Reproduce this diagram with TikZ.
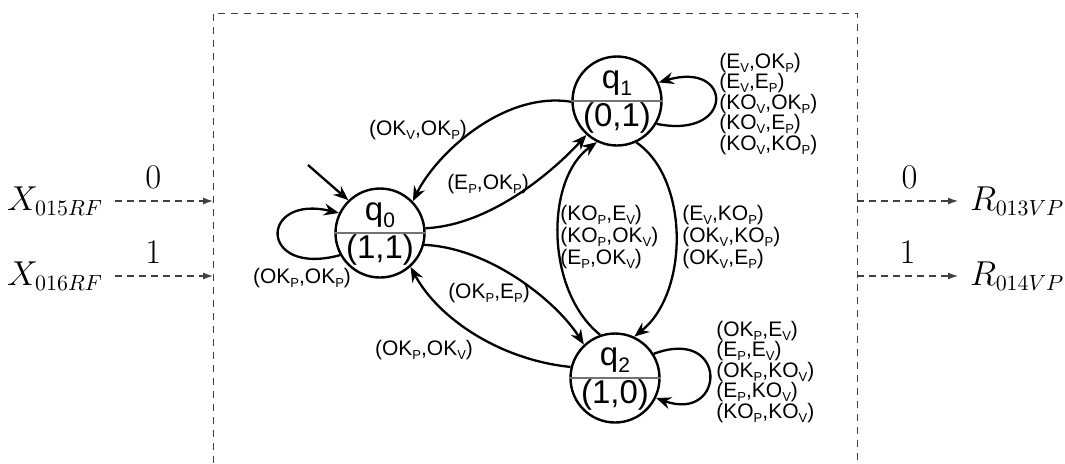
\documentclass[tikz,border=0pt]{standalone}
\usepackage{fontspec}
\setmainfont{Liberation Sans}
\usetikzlibrary{arrows.meta}
\newcommand\sbs[1]{\raisebox{-2pt}{\fontsize{6.5}{7}\selectfont #1}}
\newcommand\ssb[1]{\raisebox{-3.5pt}{\fontsize{10.5}{11}\selectfont #1}}
\begin{document}
\begin{tikzpicture}[x=0.5pt,y=-0.5pt,
  st/.style={circle,draw,line width=1.2pt,minimum size=44.5pt,inner sep=0pt},
  sttxt/.style={font=\fontsize{16.5}{18}\selectfont,inner sep=0pt},
  edge/.style={line width=1.15pt,-{Stealth[length=7.5pt,width=6pt,inset=2.5pt]}},
  lbl/.style={font=\fontsize{10.5}{10.25}\selectfont,inner sep=0pt,align=left},
  mlb/.style={font=\fontsize{10.5}{9.5}\selectfont,inner sep=0pt,align=left},
  io/.style={dash pattern=on 3.5pt off 2.5pt,draw=black!75,line width=0.6pt,-{Latex[length=5pt,width=3.5pt]}},
  boxln/.style={draw=black!75,line width=0.5pt,dash pattern=on 3.5pt off 3pt},
  mlbl/.style={font=\fontsize{16}{18}\selectfont,inner sep=0pt,outer sep=6pt},
  dig/.style={font=\fontsize{16}{18}\selectfont,inner sep=0pt}]
\useasboundingbox (0,0) rectangle (1065,463);
\draw[boxln] (213,463) -- (213,13) -- (857,13) -- (857,463);

% states
\node[st] (q0) at (380,233) {};
\node[st] (q1) at (617,101) {};
\node[st] (q2) at (615,378) {};
\foreach \s in {q0,q1,q2} \draw[black!55,line width=0.8pt] (\s.west) -- (\s.east);
\node[sttxt] (q0a) at ([yshift=9pt]q0.center) {q\ssb{0}};
\node[sttxt] (q0b) at ([yshift=-8.5pt]q0.center) {(1,1)};
\node[sttxt] (q1a) at ([yshift=9pt]q1.center) {q\ssb{1}};
\node[sttxt] (q1b) at ([yshift=-8.5pt]q1.center) {(0,1)};
\node[sttxt] (q2a) at ([yshift=9pt]q2.center) {q\ssb{2}};
\node[sttxt] (q2b) at ([yshift=-8.5pt]q2.center) {(1,0)};

% initial
\coordinate (init) at (308,165);
\draw[edge] (init) -- (q0.134);

% transitions
\draw[edge] (q1.181) .. controls +(-68,-11) and +(23,-47) .. (q0.44);
\draw[edge] (q0.6) .. controls +(66,-3) and +(-32,35) .. (q1.228);
\draw[edge] (q0.345) .. controls +(66,3) and +(-27,-43) .. (q2.133);
\draw[edge] (q2.166) .. controls +(-70,-7) and +(28,52) .. (q0.312);
\draw[edge] (q2.109) .. controls +(-55,-44) and +(-52,37) .. (q1.244);
\draw[edge] (q1.295) .. controls +(53,36) and +(55,-44) .. (q2.65);
\draw[edge] (q0.209) .. controls +(-82,22) and +(-80,-19) .. (q0.154);
\draw[edge] (q1.330) .. controls +(78,16) and +(75,-22) .. (q1.24);
\draw[edge] (q2.32) .. controls +(75,-28) and +(70,25) .. (q2.334);

% labels
\node[lbl] (l10) at (418,130) {(OK\sbs{V},OK\sbs{P})};
\node[lbl] (l01) at (488,184) {(E\sbs{P},OK\sbs{P})};
\node[lbl] (l00) at (302,278) {(OK\sbs{P},OK\sbs{P})};
\node[lbl] (l02) at (489,293) {(OK\sbs{P},E\sbs{P})};
\node[lbl] (l20) at (424,350) {(OK\sbs{P},OK\sbs{V})};
\node[mlb,anchor=west] (l21) at (560,237) {(KO\sbs{P},E\sbs{V})\\(KO\sbs{P},OK\sbs{V})\\(E\sbs{P},OK\sbs{V})};
\node[mlb,anchor=west] (l12) at (682,237) {(E\sbs{V},KO\sbs{P})\\(OK\sbs{V},KO\sbs{P})\\(OK\sbs{V},E\sbs{P})};
\node[lbl,anchor=west] (l11) at (719,104) {(E\sbs{V},OK\sbs{P})\\(E\sbs{V},E\sbs{P})\\(KO\sbs{V},OK\sbs{P})\\(KO\sbs{V},E\sbs{P})\\(KO\sbs{V},KO\sbs{P})};
\node[lbl,anchor=west] (l22) at (716,372) {(OK\sbs{P},E\sbs{V})\\(E\sbs{P},E\sbs{V})\\(OK\sbs{P},KO\sbs{V})\\(E\sbs{P},KO\sbs{V})\\(KO\sbs{P},KO\sbs{V})};

% inputs / outputs
\node[mlbl,anchor=east] (x15) at (115,201) {$X_{015RF}$};
\node[mlbl,anchor=east] (x16) at (115,276) {$X_{016RF}$};
\node[mlbl,anchor=west] (r13) at (958,201) {$R_{013VP}$};
\node[mlbl,anchor=west] (r14) at (958,276) {$R_{014VP}$};
\coordinate (bl1) at (213,201);
\coordinate (bl2) at (213,276);
\coordinate (br1) at (857,201);
\coordinate (br2) at (857,276);
\draw[io] (x15.east) -- node[dig,pos=0.39,yshift=12pt] {$0$} (bl1);
\draw[io] (x16.east) -- node[dig,pos=0.39,yshift=12pt] {$1$} (bl2);
\draw[io] (br1) -- node[dig,pos=0.52,yshift=12pt] {$0$} (r13.west);
\draw[io] (br2) -- node[dig,pos=0.5,yshift=12pt] {$1$} (r14.west);
\end{tikzpicture}
\end{document}
